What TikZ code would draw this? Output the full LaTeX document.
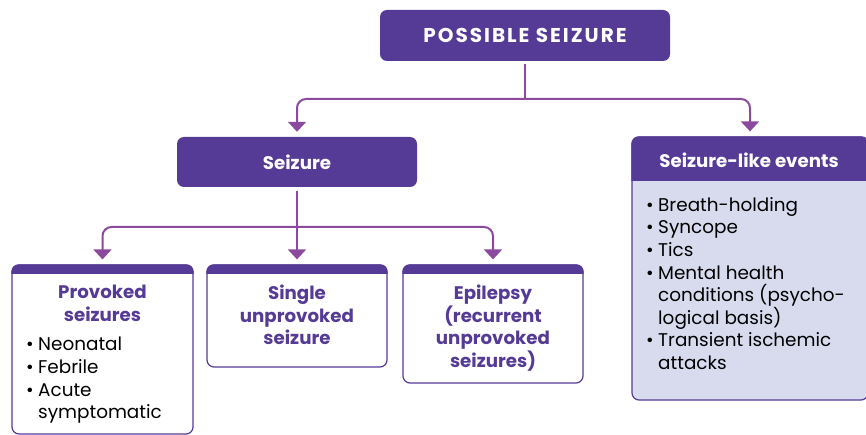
\documentclass[tikz,border=0pt]{standalone}
\usepackage{fontspec}
\setmainfont{Poppins}
\usepackage{tikz}
\usetikzlibrary{arrows.meta,positioning,calc}

\definecolor{deeppurple}{HTML}{553B96}
\definecolor{linkpurple}{HTML}{8C4A9F}
\definecolor{lavender}{HTML}{D8DBEE}

\newcommand{\bul}{\makebox[12pt][l]{\textbullet}}
\newcommand{\ind}{\hspace*{12pt}}

\begin{document}
\begin{tikzpicture}[x=1pt, y=-1pt]

% Flow chart of possible seizure types
\tikzstyle{title}=[rectangle, fill=deeppurple, rounded corners=7pt, text=white, font=\bfseries\fontsize{18.2}{22.5}\selectfont, inner sep=0pt]
\tikzstyle{outline}=[rectangle, draw=deeppurple, line width=1.2pt, rounded corners=7pt, inner sep=0pt]
\tikzstyle{heading}=[text=deeppurple, align=center, font=\bfseries\fontsize{18.2}{22.5}\selectfont, anchor=north, inner sep=0pt]
\tikzstyle{items}=[align=left, font=\fontsize{18.4}{22.6}\selectfont, anchor=north west, inner sep=0pt]
\tikzstyle{link}=[draw=linkpurple, line width=2pt, rounded corners=9pt]
\tikzstyle{tip}=[-{Triangle[width=18pt,length=10pt]}, shorten >=5pt]

\useasboundingbox (0,0) rectangle (866,435);

% Top level
\node[title, minimum width=290pt, minimum height=51pt, font=\bfseries\fontsize{20}{22}\selectfont\addfontfeature{LetterSpace=10}] (possible) at (525,35.5) {POSSIBLE SEIZURE};

% Second level
\node[title, minimum width=240pt, minimum height=50pt] (seizure) at (297,162) {Seizure};
\node[outline, fill=lavender, minimum width=236pt, minimum height=263pt] (events) at (750,268.5) {};

% Third level
\node[outline, fill=white, minimum width=181pt, minimum height=169pt] (provoked) at (102.5,349.5) {};
\node[outline, fill=white, minimum width=180pt, minimum height=102pt] (single) at (297,316) {};
\node[outline, fill=white, minimum width=180pt, minimum height=118pt] (epilepsy) at (493,324) {};

% Header bars
\foreach \b/\h in {provoked/10, single/10, epilepsy/10, events/45} {
  \begin{scope}
    \clip[rounded corners=7pt] (\b.north west) rectangle (\b.south east);
    \fill[deeppurple] (\b.north west) rectangle ($(\b.north east)+(0,\h)$);
  \end{scope}
}

% Texts
\node[text=white, font=\bfseries\fontsize{18.2}{22.5}\selectfont] (eventsT) at (749,160) {Seizure-like events};
\node[items] (eventsL) at (646,197) {\bul Breath-holding\\\bul Syncope\\\bul Tics\\\bul Mental health\\\ind conditions (psycho-\\\ind logical basis)\\\bul Transient ischemic\\\ind attacks};

\node[heading] (provokedT) at (102.5,285) {Provoked\\seizures};
\node[items] (provokedL) at (26,337) {\bul Neonatal\\\bul Febrile\\\bul Acute\\\ind symptomatic};
\node[heading] (singleT) at (297,285) {Single\\unprovoked\\seizure};
\node[heading] (epilepsyT) at (493,285) {Epilepsy\\(recurrent\\unprovoked\\seizures)};

% Connectors
\coordinate (split) at (525,99);
\coordinate (branch) at (298,227);

\draw[link, shorten <=3pt] (possible.south) -- (split);
\draw[link, tip] (split) -| (seizure.north);
\draw[link, tip] (split) -| (events.north);

\draw[link, tip, shorten <=4pt] (seizure.south) -- (single.north);
\draw[link, tip] (branch) -| (provoked.north);
\draw[link, tip] (branch) -| (epilepsy.north);

\end{tikzpicture}
\end{document}
